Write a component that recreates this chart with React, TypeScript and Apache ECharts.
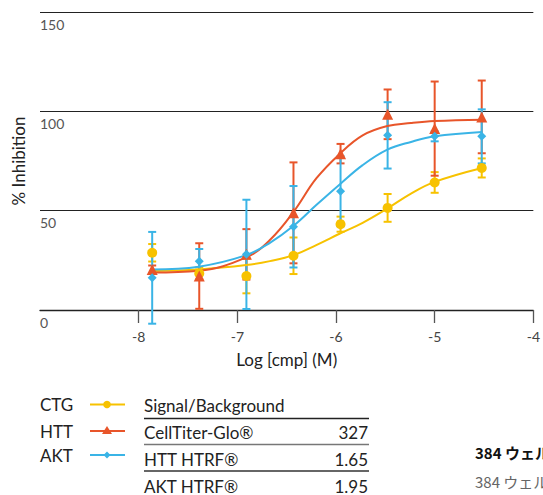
import React, { useEffect, useRef } from "react";
import * as echarts from "echarts";

const logDose = [-7.863, -7.386, -6.908, -6.431, -5.954, -5.477, -5.0, -4.523];

const ctgMean = [28.8, 18.4, 17.1, 27.3, 43.2, 51.4, 64.2, 71.5];
const ctgErr = [4.4, 3, 8.7, 9.2, 3.8, 7, 5.2, 4.8];
const httMean = [20.4, 17.1, 28, 48.9, 78.7, 98.5, 91.3, 97.2];
const httErr = [2, 16.5, 12.7, 25.4, 4.9, 12.5, 23.7, 18.3];
const aktMean = [16.2, 24.6, 28, 41.9, 59.8, 87.9, 87.4, 87.4];
const aktErr = [23.1, 6.1, 27.5, 20.5, 17.6, 16.7, 2.5, 13.6];

// fitted curves
const curveX = [-7.86, -7.39, -6.91, -6.67, -6.43, -6.2, -5.96, -5.73, -5.48, -5.24, -5.0, -4.52];
const ctgFit = [19.6, 20.4, 22.6, 24.6, 27.6, 32.7, 38.5, 43.9, 51.1, 58.6, 64.5, 71.5];
const httFit = [18.9, 19.8, 26.5, 35.2, 49.4, 66.2, 78.7, 87.9, 92.6, 94.1, 95.1, 95.8];
const aktFit = [20.4, 21.8, 27.6, 33.8, 42.4, 52.8, 63.3, 72.9, 80.7, 84.6, 87.4, 89.6];

const xTicks = [-8, -7, -6, -5, -4];
const yTicks = [0, 50, 100, 150];

const tableRows = ["CellTiter-Glo®", "HTT HTRF®", "AKT HTRF®"];
const tableValues = ["327", "1.65", "1.95"];
const legendNames = ["CTG", "HTT", "AKT"];

const YELLOW = "#F7C200";
const RED = "#E8552A";
const BLUE = "#3AB4E6";
const FONT = "Lato, 'Noto Sans', sans-serif";

function errData(mean: number[], err: number[]) {
  return logDose.map((x, i) => [x, mean[i] - err[i], mean[i] + err[i]]);
}

function errSeries(mean: number[], err: number[], color: string) {
  return {
    type: "custom",
    clip: false,
    z: 1,
    data: errData(mean, err),
    renderItem: (params: any, api: any) => {
      const x = api.value(0);
      const lo = api.coord([x, api.value(1)]);
      const hi = api.coord([x, api.value(2)]);
      const w = 4;
      const st = { stroke: color, lineWidth: 2 };
      return {
        type: "group",
        children: [
          { type: "line", shape: { x1: lo[0], y1: lo[1], x2: hi[0], y2: hi[1] }, style: st },
          { type: "line", shape: { x1: lo[0] - w, y1: lo[1], x2: lo[0] + w, y2: lo[1] }, style: st },
          { type: "line", shape: { x1: hi[0] - w, y1: hi[1], x2: hi[0] + w, y2: hi[1] }, style: st },
        ],
      };
    },
  };
}

function fitSeries(fit: number[], color: string) {
  return {
    type: "line",
    smooth: 0.4,
    showSymbol: false,
    z: 2,
    data: curveX.map((x, i) => [x, fit[i]]),
    lineStyle: { color, width: 2 },
    itemStyle: { color },
  };
}

function pointSeries(mean: number[], color: string, symbol: string, size: number) {
  return {
    type: "scatter",
    z: 3,
    symbol,
    symbolSize: size,
    data: logDose.map((x, i) => [x, mean[i]]),
    itemStyle: { color, opacity: 1 },
  };
}

export default function App() {
  const ref = useRef<HTMLDivElement>(null);
  useEffect(() => {
    if (!ref.current) return;
    const chart = echarts.init(ref.current, null, { renderer: "svg" });

    const colors = [YELLOW, RED, BLUE];
    const legendY = [404.5, 431, 455];
    const graphics: any[] = [];
    legendNames.forEach((name, i) => {
      const y = legendY[i];
      graphics.push({
        type: "text",
        style: { text: name, x: 40, y, fill: "#222", font: `17px ${FONT}`, textVerticalAlign: "middle" },
      });
      graphics.push({
        type: "line",
        shape: { x1: 90, y1: y, x2: 125, y2: y },
        style: { stroke: colors[i], lineWidth: 2 },
      });
    });
    graphics.push({ type: "circle", shape: { cx: 107, cy: legendY[0], r: 3.8 }, style: { fill: YELLOW } });
    graphics.push({
      type: "polygon",
      shape: { points: [[107, legendY[1] - 5], [112, legendY[1] + 3], [102, legendY[1] + 3]] },
      style: { fill: RED },
    });
    graphics.push({
      type: "polygon",
      shape: { points: [[107, legendY[2] - 3.5], [110.5, legendY[2]], [107, legendY[2] + 3.5], [103.5, legendY[2]]] },
      style: { fill: BLUE },
    });

    graphics.push({
      type: "text",
      style: { text: "Signal/Background", x: 144, y: 405, fill: "#222", font: `17px ${FONT}`, textVerticalAlign: "middle" },
    });
    const rowY = [432, 459, 486];
    const lineY = [418.5, 444.5, 471];
    const lineCol = ["#222", "#777", "#333"];
    lineY.forEach((ly, i) => {
      graphics.push({
        type: "line",
        shape: { x1: 144, y1: ly, x2: 369, y2: ly },
        style: { stroke: lineCol[i], lineWidth: 1.3 },
      });
    });
    tableRows.forEach((r, i) => {
      graphics.push({
        type: "text",
        style: { text: r, x: 144, y: rowY[i], fill: "#222", font: `17px ${FONT}`, textVerticalAlign: "middle" },
      });
      graphics.push({
        type: "text",
        style: {
          text: tableValues[i],
          x: 368,
          y: rowY[i],
          fill: "#222",
          font: `17px ${FONT}`,
          textAlign: "right",
          textVerticalAlign: "middle",
        },
      });
    });
    graphics.push({
      type: "text",
      style: {
        text: "384 ウェル",
        x: 475,
        y: 452,
        fill: "#111",
        font: `bold 15px 'Noto Sans CJK JP', ${FONT}`,
        textVerticalAlign: "middle",
      },
    });
    graphics.push({
      type: "text",
      style: {
        text: "384 ウェル",
        x: 475,
        y: 481,
        fill: "#666",
        font: `15px 'Noto Sans CJK JP', ${FONT}`,
        textVerticalAlign: "middle",
      },
    });

    chart.setOption({
      animation: false,
      grid: { left: 40, right: 4, top: 12, bottom: 185, containLabel: false },
      xAxis: {
        type: "value",
        min: -9,
        max: -4,
        interval: 1,
        name: "Log [cmp] (M)",
        nameLocation: "middle",
        nameGap: 41,
        nameTextStyle: { color: "#222", fontSize: 17, fontFamily: FONT },
        axisLine: { show: true, onZero: false, lineStyle: { color: "#222", width: 1.3 } },
        axisTick: { show: true, length: 13, customValues: xTicks, lineStyle: { color: "#555", width: 1.3 } },
        axisLabel: { customValues: xTicks, margin: 19, color: "#444", fontSize: 14, fontFamily: FONT },
        splitLine: { show: false },
      },
      yAxis: {
        type: "value",
        min: 0,
        max: 150,
        interval: 50,
        name: "% Inhibition",
        nameLocation: "middle",
        nameGap: 13,
        nameTextStyle: { color: "#222", fontSize: 17, fontFamily: FONT },
        axisLine: { show: false },
        axisTick: { show: false },
        axisLabel: {
          customValues: yTicks,
          align: "left",
          verticalAlign: "top",
          margin: 0,
          padding: [5, 0, 0, 0],
          color: "#555",
          fontSize: 14,
          fontFamily: FONT,
        },
        splitLine: { show: true, lineStyle: { color: "#222", width: 1.2 } },
      },
      graphic: graphics,
      series: [
        errSeries(ctgMean, ctgErr, YELLOW),
        errSeries(httMean, httErr, RED),
        errSeries(aktMean, aktErr, BLUE),
        fitSeries(ctgFit, YELLOW),
        fitSeries(httFit, RED),
        fitSeries(aktFit, BLUE),
        pointSeries(ctgMean, YELLOW, "circle", 10),
        pointSeries(httMean, RED, "triangle", 11),
        pointSeries(aktMean, BLUE, "diamond", 9),
      ],
    });
    return () => chart.dispose();
  }, []);
  return (
    <div
      ref={ref}
      style={{ position: "fixed", left: 0, top: 0, width: 543, height: 495, background: "#fff" }}
    />
  );
}
